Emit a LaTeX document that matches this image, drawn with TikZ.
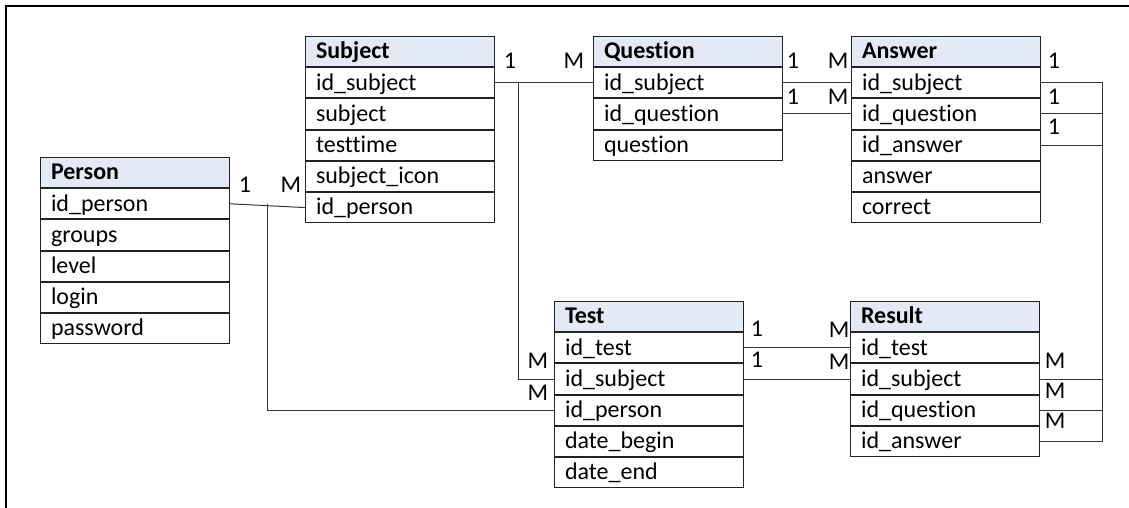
\documentclass[tikz,border=0pt]{standalone}
\usepackage{fontspec}
\setmainfont[Ligatures={NoCommon}]{Carlito}
\usetikzlibrary{calc}
\definecolor{hdrfill}{RGB}{228,234,245}
\definecolor{edge}{RGB}{35,35,35}
\definecolor{wire}{RGB}{55,55,55}
\tikzset{
  hdr/.style={draw=edge, line width=1pt, fill=hdrfill, anchor=north west,
    minimum width=189pt, minimum height=30.2pt, text width=168pt,
    inner xsep=10.5pt, inner ysep=0pt, text height=14.5pt, text depth=0pt, align=left},
  cell/.style={hdr, fill=white},
  card/.style={inner sep=0pt, text height=14pt, text depth=0pt},
  wireline/.style={draw=wire, line width=1pt},
}
% one entity table: name, top-left corner, title, field list
\newcommand\ertable[4]{%
  \node[hdr] (#1-0) at (#2) {\textbf{#3}};
  \foreach \f [count=\i, remember=\i as \j (initially 0)] in {#4}
    \node[cell] (#1-\i) at (#1-\j.south west) {\f};
}
\begin{document}
\begin{tikzpicture}[x=1pt, y=-1pt, font=\fontsize{24}{28}\selectfont]
\useasboundingbox (0,0) rectangle (1129,508);
% outer frame
\draw[line width=2pt, black] (1129,6) -- (6,6) -- (6,508);

% tables
\ertable{person}{40,157}{Person}{id\_person, groups, level, login, password}
\ertable{subject}{305,36}{Subject}{id\_subject, subject, testtime, subject\_icon, id\_person}
\ertable{question}{593,36}{Question}{id\_subject, id\_question, question}
\ertable{answer}{851,36}{Answer}{id\_subject, id\_question, id\_answer, answer, correct}
\ertable{test}{554,301}{Test}{id\_test, id\_subject, id\_person, date\_begin, date\_end}
\ertable{result}{850,301}{Result}{id\_test, id\_subject, id\_question, id\_answer}

% junction points and the vertical bus on the right
\coordinate (pj) at ($(person-1.east)+(37,0)$);
\coordinate (sj) at ($(subject-1.east)+(23,0)$);
\coordinate (bus) at ($(answer-1.east)+(61,0)$);

% relations
\draw[wireline] (person-1.east) -- (subject-5.west);
\draw[wireline] (pj) |- (test-3.west);
\draw[wireline] (subject-1.east) -- (question-1.west);
\draw[wireline] (sj) |- (test-2.west);
\draw[wireline] (question-1.east) -- (answer-1.west);
\draw[wireline] (question-2.east) -- (answer-2.west);
\draw[wireline] (test-1.east) -- (result-1.west);
\draw[wireline] (test-2.east) -- (result-2.west);
\draw[wireline] (answer-1.east) -- (bus) |- (result-4.east);
\draw[wireline] (answer-2.east) -- (answer-2.east -| bus);
\draw[wireline] (answer-3.east) -- (answer-3.east -| bus);
\draw[wireline] (result-2.east) -- (result-2.east -| bus);
\draw[wireline] (result-3.east) -- (result-3.east -| bus);

% cardinalities
\node[card] (c1) at (245,185) {1};
\node[card] (c2) at (291,185) {M};
\node[card] (c3) at (510,62) {1};
\node[card] (c4) at (574,62) {M};
\node[card] (c5) at (793,62) {1};
\node[card] (c6) at (838,62) {M};
\node[card] (c7) at (793,98) {1};
\node[card] (c8) at (838,98) {M};
\node[card] (c9) at (1054,62) {1};
\node[card] (c10) at (1054,98) {1};
\node[card] (c11) at (1054,128) {1};
\node[card] (c12) at (538,361) {M};
\node[card] (c13) at (538,393) {M};
\node[card] (c14) at (757,329) {1};
\node[card] (c15) at (757,360) {1};
\node[card] (c16) at (839,330) {M};
\node[card] (c17) at (839,362) {M};
\node[card] (c18) at (1055,361) {M};
\node[card] (c19) at (1055,391) {M};
\node[card] (c20) at (1055,421) {M};
\end{tikzpicture}
\end{document}
